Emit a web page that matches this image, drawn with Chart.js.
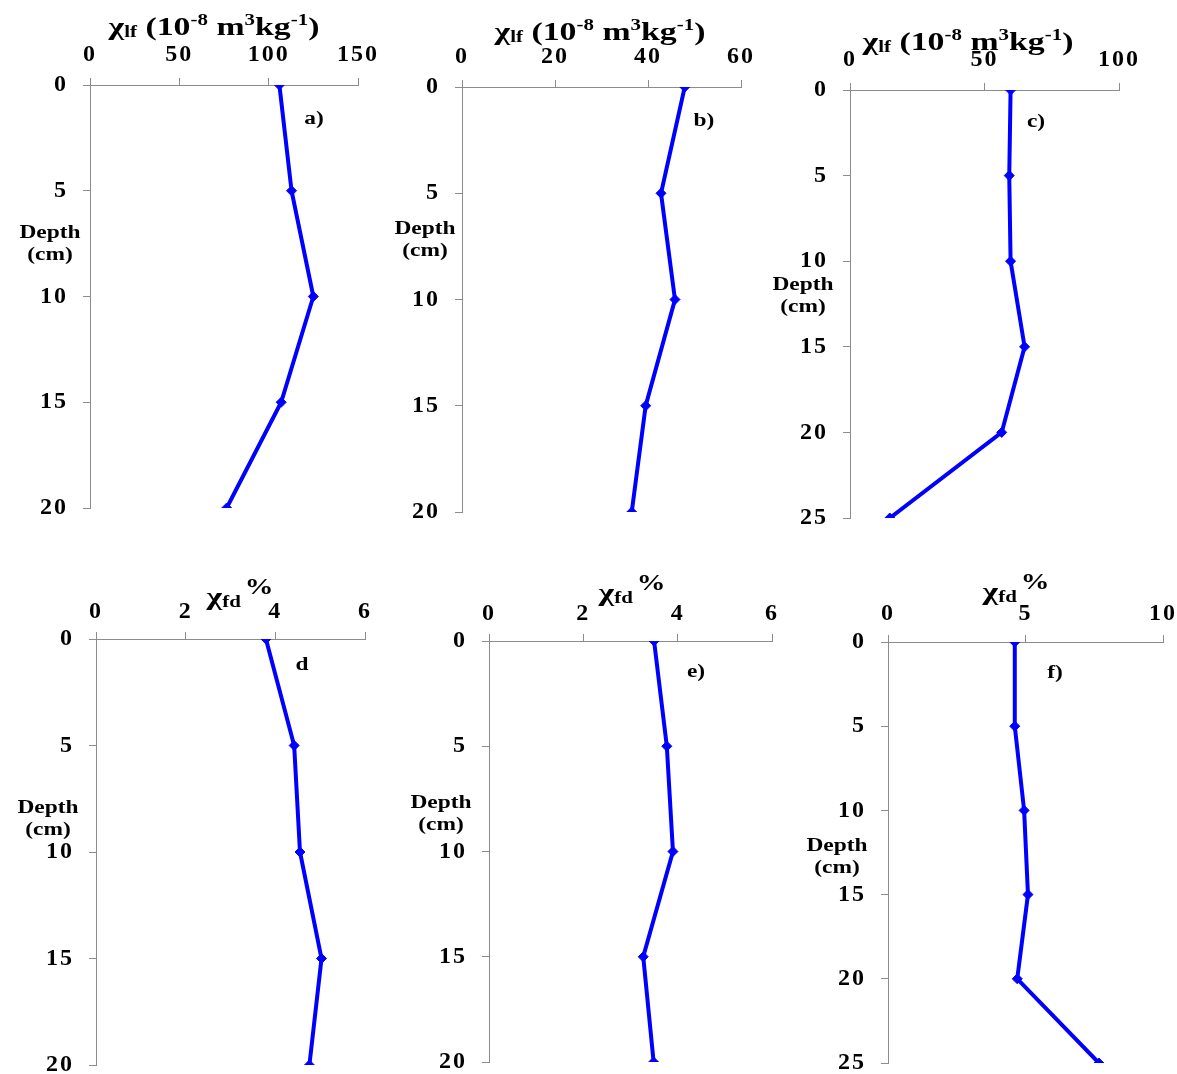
<!DOCTYPE html>
<html>
<head>
<meta charset="utf-8">
<script src="https://cdn.jsdelivr.net/npm/chart.js@4.4.1/dist/chart.umd.min.js"></script>
<style>
  body {
    margin: 0;
    width: 1177px;
    height: 1074px;
    overflow: hidden;
    position: relative;
    background: #fff;
    font-family: "Liberation Serif", "Times New Roman", serif;
    font-weight: bold;
    color: #000;
  }
  canvas { position: absolute; }
  .lbl {
    position: absolute;
    white-space: nowrap;
    line-height: 1;
    transform: translate(-50%, -50%) scaleX(1.3);
  }
  .title { font-size: 26px; }
  .depth { font-size: 18px; line-height: 22px; text-align: center; }
  .tag { font-size: 18px; }
  sub { font-size: 62%; vertical-align: -0.15em; }
  sup { font-size: 62%; vertical-align: 0.6em; }
  .pct { font-size: 85%; vertical-align: 0.5em; margin-left: 3px; }
</style>
</head>
<body>
<script>
// depth of each sample (cm)
const depth20 = [0, 5, 10, 15, 20];
const depth25 = [0, 5, 10, 15, 20, 25];

// low frequency susceptibility, 10^-8 m3/kg
const chiLfA = [106, 112.8, 125, 107, 76.5];
const chiLfB = [47.9, 42.8, 45.8, 39.5, 36.5];
const chiLfC = [59.7, 59.2, 59.7, 64.9, 56.4, 14.8];

// frequency dependent susceptibility, %
const chiFdD = [3.79, 4.42, 4.55, 5.03, 4.76];
const chiFdE = [3.50, 3.77, 3.90, 3.27, 3.49];
const chiFdF = [4.61, 4.61, 4.95, 5.09, 4.70, 7.67];

// tick labels
const xTicksA = [0, 50, 100, 150];
const xTicksB = [0, 20, 40, 60];
const xTicksC = [0, 50, 100];
const xTicksFd = [0, 2, 4, 6];
const xTicksF = [0, 5, 10];
const yTicks20 = [0, 5, 10, 15, 20];
const yTicks25 = [0, 5, 10, 15, 20, 25];

const lfTitle = "χ<sub>lf</sub> (10<sup>-8</sup> m<sup>3</sup>kg<sup>-1</sup>)";
const fdTitle = "χ<sub>fd</sub><span class='pct'>%</span>";

// plot area box in page pixels: [left, right, top, bottom]
const panels = [
  { box: [90, 358, 85, 508], depth: depth20, values: chiLfA, xTicks: xTicksA, yTicks: yTicks20, xPad: 9,
    title: [lfTitle, 214, 26], depthLbl: [50, 243], tag: ["a)", 314, 118] },
  { box: [462, 741, 87, 512], depth: depth20, values: chiLfB, xTicks: xTicksB, yTicks: yTicks20, xPad: 9,
    title: [lfTitle, 600, 31], depthLbl: [425, 239], tag: ["b)", 704, 120] },
  { box: [850, 1119, 90, 518], depth: depth25, values: chiLfC, xTicks: xTicksC, yTicks: yTicks25, xPad: 9,
    title: [lfTitle, 968, 41], depthLbl: [803, 295], tag: ["c)", 1036, 121] },
  { box: [96, 365, 639, 1065], depth: depth20, values: chiFdD, xTicks: xTicksFd, yTicks: yTicks20, xPad: 6,
    title: [fdTitle, 240, 593], depthLbl: [48, 818], tag: ["d", 302, 664] },
  { box: [489, 772, 641, 1062], depth: depth20, values: chiFdE, xTicks: xTicksFd, yTicks: yTicks20, xPad: 6,
    title: [fdTitle, 632, 589], depthLbl: [441, 813], tag: ["e)", 696, 671] },
  { box: [888, 1163, 642, 1063], depth: depth25, values: chiFdF, xTicks: xTicksF, yTicks: yTicks25, xPad: 7,
    title: [fdTitle, 1016, 588], depthLbl: [837, 856], tag: ["f)", 1055, 672] },
];

const tickFont = { family: "'Liberation Serif', serif", size: 24, weight: "bold" };
const axisGrey = "#8c8c8c";

// wide, spaced out digits like the original figure
const spacing = {
  id: "spacing",
  beforeDraw(chart) { chart.ctx.letterSpacing = "2px"; },
  afterDraw(chart) { chart.ctx.letterSpacing = "0px"; },
};

function addLabel(cls, html, x, y) {
  const d = document.createElement("div");
  d.className = "lbl " + cls;
  d.innerHTML = html;
  d.style.left = x + "px";
  d.style.top = y + "px";
  document.body.appendChild(d);
}

panels.forEach((p) => {
  const padL = 80, padT = 60, padR = 40, padB = 24;
  const w = p.box[1] - p.box[0] + padL + padR;
  const h = p.box[3] - p.box[2] + padT + padB;
  const canvas = document.createElement("canvas");
  canvas.width = w;
  canvas.height = h;
  canvas.style.left = p.box[0] - padL + "px";
  canvas.style.top = p.box[2] - padT + "px";
  document.body.appendChild(canvas);

  new Chart(canvas, {
    type: "scatter",
    data: {
      datasets: [
        {
          data: p.depth.map((d, i) => ({ x: p.values[i], y: d })),
          showLine: true,
          borderColor: "#0000ff",
          backgroundColor: "#0000ff",
          borderWidth: 4,
          pointStyle: "rectRot",
          pointRadius: 5,
          pointHoverRadius: 5,
          pointBorderWidth: 1,
        },
      ],
    },
    options: {
      responsive: false,
      animation: false,
      devicePixelRatio: 1,
      layout: { padding: { left: 0, top: 0, right: padR, bottom: padB } },
      plugins: { legend: { display: false }, tooltip: { enabled: false } },
      scales: {
        x: {
          type: "linear",
          position: "top",
          min: p.xTicks[0],
          max: p.xTicks[p.xTicks.length - 1],
          afterBuildTicks: (s) => { s.ticks = p.xTicks.map((v) => ({ value: v })); },
          afterFit: (s) => { s.height = padT; s.paddingLeft = 0; s.paddingRight = 0; },
          grid: { drawOnChartArea: false, drawTicks: true, tickLength: 7, color: axisGrey },
          border: { color: axisGrey, width: 1 },
          ticks: { font: tickFont, color: "#000", padding: p.xPad, maxRotation: 0, autoSkip: false },
        },
        y: {
          type: "linear",
          reverse: true,
          min: p.yTicks[0],
          max: p.yTicks[p.yTicks.length - 1],
          afterBuildTicks: (s) => { s.ticks = p.yTicks.map((v) => ({ value: v })); },
          afterFit: (s) => { s.width = padL; s.paddingTop = 0; s.paddingBottom = 0; },
          grid: { drawOnChartArea: false, drawTicks: true, tickLength: 7, color: axisGrey },
          border: { color: axisGrey, width: 1 },
          ticks: { font: tickFont, color: "#000", padding: 15, autoSkip: false },
        },
      },
    },
    plugins: [spacing],
  });

  addLabel("title", p.title[0], p.title[1], p.title[2]);
  addLabel("depth", "Depth<br>(cm)", p.depthLbl[0], p.depthLbl[1]);
  addLabel("tag", p.tag[0], p.tag[1], p.tag[2]);
});
</script>
</body>
</html>
